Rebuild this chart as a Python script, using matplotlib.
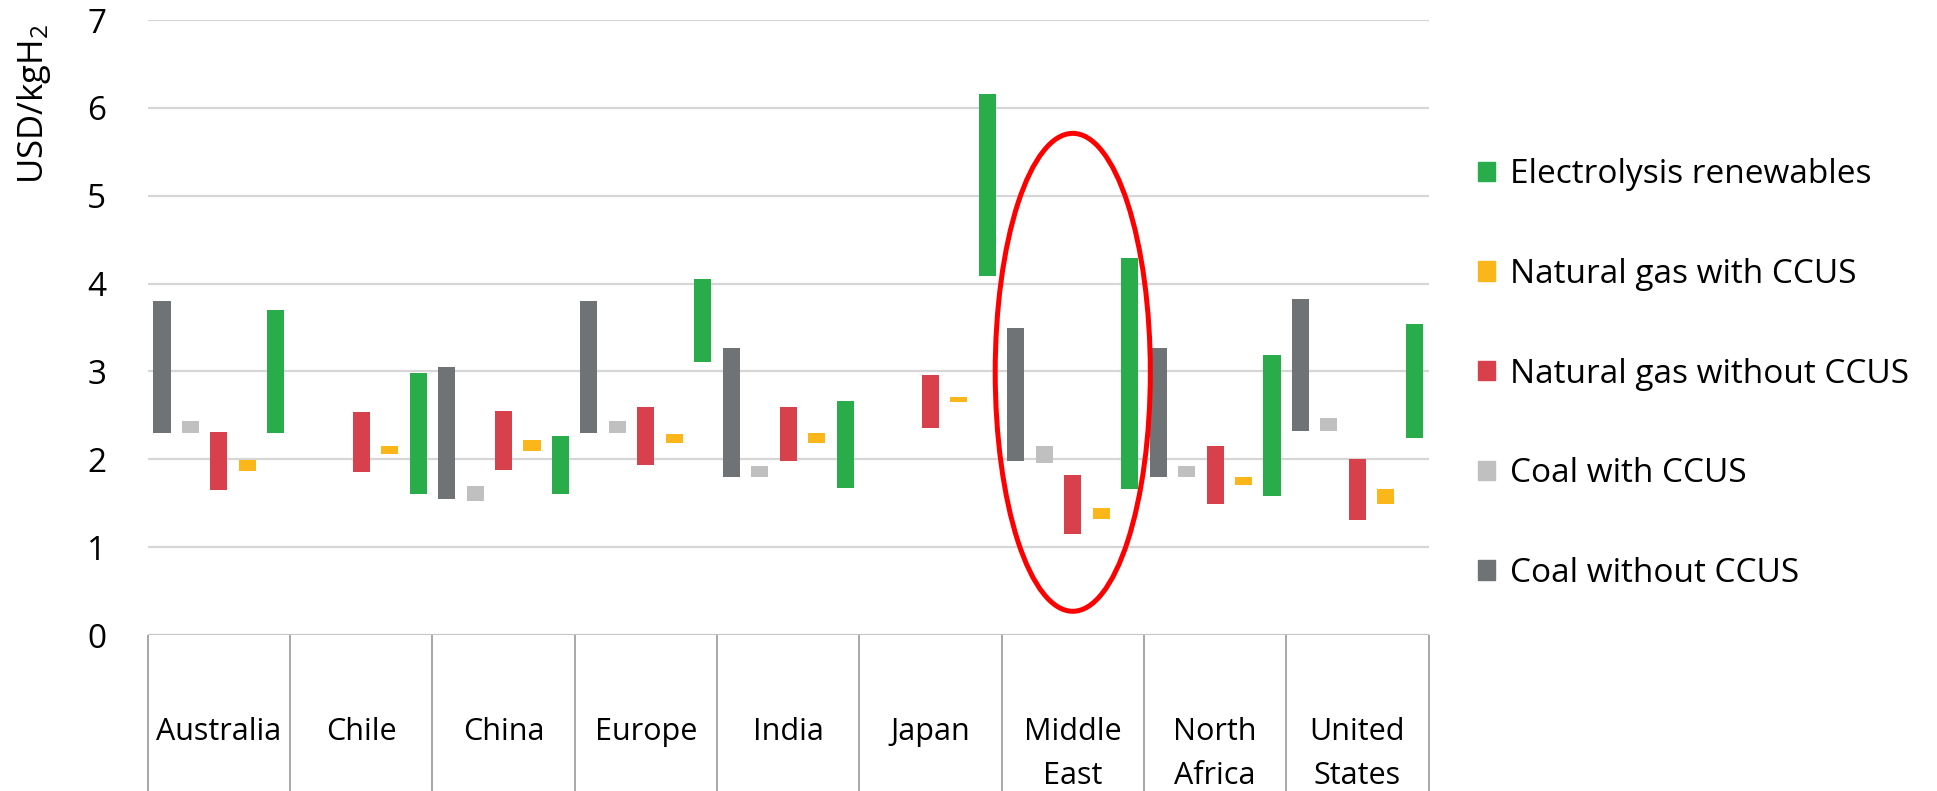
import numpy as np
import matplotlib
matplotlib.use('Agg')
import matplotlib.pyplot as plt
from matplotlib.patches import Patch, Ellipse

plt.rcParams['font.family'] = ['Open Sans', 'DejaVu Sans']
plt.rcParams['mathtext.default'] = 'regular'

regions = ['Australia', 'Chile', 'China', 'Europe', 'India', 'Japan',
           'Middle\nEast', 'North\nAfrica', 'United\nStates']
nan = np.nan

# (low, high) ranges in USD/kgH2
coal_low = [2.30, nan, 1.55, 2.30, 1.80, nan, 1.98, 1.80, 2.32]
coal_high = [3.80, nan, 3.05, 3.80, 3.27, nan, 3.50, 3.27, 3.82]
coal_ccus_low = [2.30, nan, 1.52, 2.30, 1.80, nan, 1.96, 1.80, 2.32]
coal_ccus_high = [2.44, nan, 1.70, 2.44, 1.92, nan, 2.15, 1.92, 2.47]
gas_low = [1.65, 1.86, 1.88, 1.93, 1.98, 2.36, 1.15, 1.49, 1.31]
gas_high = [2.31, 2.54, 2.55, 2.59, 2.59, 2.96, 1.82, 2.15, 2.00]
gas_ccus_low = [1.87, 2.06, 2.10, 2.19, 2.18, 2.65, 1.32, 1.71, 1.49]
gas_ccus_high = [1.99, 2.15, 2.22, 2.29, 2.30, 2.71, 1.45, 1.80, 1.66]
elec_low = [2.30, 1.60, 1.60, 3.11, 1.67, 4.09, 1.66, 1.58, 2.24]
elec_high = [3.70, 2.98, 2.26, 4.05, 2.66, 6.16, 4.29, 3.19, 3.54]

series = [
    ('Coal without CCUS', coal_low, coal_high, '#6f7375'),
    ('Coal with CCUS', coal_ccus_low, coal_ccus_high, '#c0c0c0'),
    ('Natural gas without CCUS', gas_low, gas_high, '#d8414b'),
    ('Natural gas with CCUS', gas_ccus_low, gas_ccus_high, '#fbb619'),
    ('Electrolysis renewables', elec_low, elec_high, '#28ad4a'),
]

fig = plt.figure(figsize=(19.37, 7.91), dpi=100)
ax = fig.add_axes([0.0763, 0.1972, 0.6612, 0.7775])

x = np.arange(len(regions))
for k, (name, lo, hi, col) in enumerate(series):
    lo = np.array(lo)
    hi = np.array(hi)
    ax.bar(x + (k - 2) * 0.2, hi - lo, bottom=lo, width=0.12, color=col, zorder=3)

ax.set_xlim(-0.5, len(regions) - 0.5)
ax.set_ylim(0, 7)
ax.set_yticks(range(8))
ax.yaxis.grid(True, color='#d6d6d6', lw=1.6, zorder=0)
ax.set_xticks([])
ax.tick_params(axis='y', length=0, pad=30, labelsize=24)
for s in ax.spines.values():
    s.set_visible(False)
ax.axhline(0, color='#c4c4c4', lw=2, zorder=2)

# category table below the axis
ax.vlines(np.arange(len(regions) + 1) - 0.5, 0, -1.8, color='#a8a8a8', lw=1.4,
          clip_on=False)
for i, name in enumerate(regions):
    ax.text(i, -0.93, name, ha='center', va='top', fontsize=22,
            linespacing=1.6, clip_on=False)

# highlight Middle East
ax.add_patch(Ellipse((6.0, 2.99), 1.09, 5.44, fill=False, ec='#ff0000', lw=3.6,
                     zorder=5, clip_on=False))

fig.text(34 / 1937, 1 - 104 / 791, 'USD/kgH$_2$', rotation=90, ha='center',
         va='center', fontsize=25)

handles = [Patch(color=c) for _, _, _, c in series][::-1]
labels = [n for n, _, _, _ in series][::-1]
fig.legend(handles, labels, loc='upper left', bbox_to_anchor=(0.763, 0.8),
           frameon=False, fontsize=24, handlelength=0.52, handleheight=0.52,
           handletextpad=0.45, labelspacing=2.0, borderpad=0, borderaxespad=0)

plt.savefig('out.png', dpi=100)
